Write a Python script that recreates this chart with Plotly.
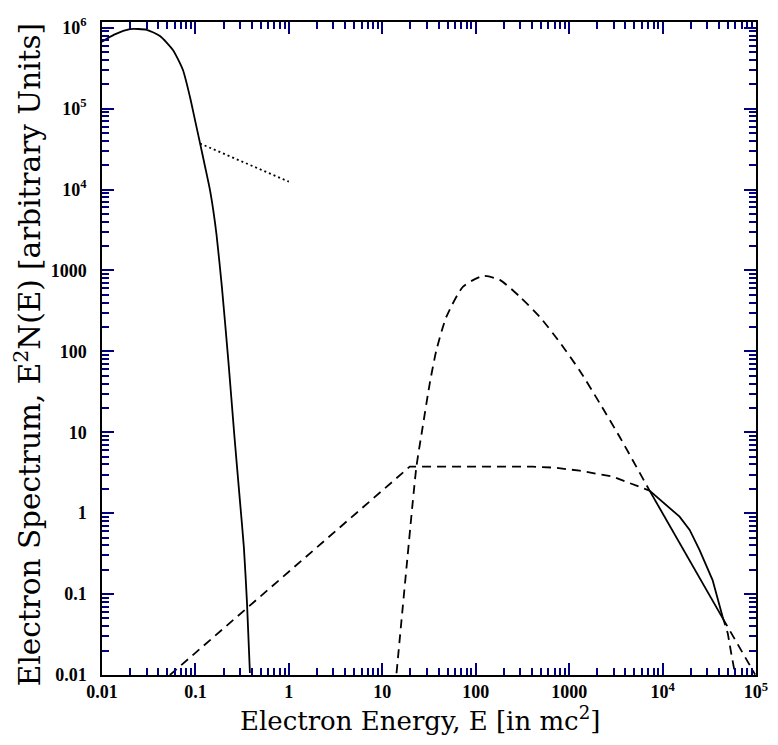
import plotly.graph_objects as go

# ---- data ----
therm_E = [0.01, 0.0135, 0.01995, 0.0301, 0.0417, 0.0574, 0.0735, 0.0873, 0.0995, 0.1117,
           0.127, 0.143, 0.155, 0.1686, 0.192, 0.2254, 0.2612, 0.299, 0.330, 0.356, 0.383]
therm_F = [6.7e5, 8.2e5, 9.6e5, 9.4e5, 7.9e5, 5.3e5, 3.0e5, 1.4e5, 7.0e4, 3.8e4,
           1.9e4, 9.9e3, 5.6e3, 2.7e3, 620, 75, 9, 1.45, 0.38, 0.08, 0.0106]

dot_E = [0.112, 1.0]
dot_F = [3.7e4, 1.25e4]

pl_E_dash = [0.0533, 19.7, 407, 700, 1294, 2917, 7260]
pl_F_dash = [0.01, 3.76, 3.76, 3.65, 3.35, 2.83, 1.90]
pl_E_solid = [7260, 1.52e4, 1.95e4, 2.49e4, 3.43e4, 4.39e4]
pl_F_solid = [1.90, 0.905, 0.62, 0.35, 0.149, 0.0526]
pl_E_tail = [4.39e4, 4.99e4, 5.43e4, 5.89e4, 6.0e4]
pl_F_tail = [0.0526, 0.0327, 0.0185, 0.0109, 0.0100]

pk_E_dash = [14.2, 18.2, 23.2, 26.5, 32.2, 38, 48.6, 73.2, 119.6, 181, 296, 483, 791,
             1294, 2118, 3467, 7260]
pk_F_dash = [0.0105, 0.218, 3.76, 10, 40, 104, 268, 631, 855, 763, 474, 268, 130,
             58, 23, 8.8, 1.90]
pk_E_solid = [7260, 4.41e4]
pk_F_solid = [1.90, 0.0501]
pk_E_tail = [4.41e4, 9.8e4]
pk_F_tail = [0.0501, 0.0101]

x_tickvals = [0.01, 0.1, 1, 10, 100, 1000, 1e4, 1e5]
x_ticktext = ["0.01", "0.1", "1", "10", "100", "1000", "10<sup>4</sup>", "10<sup>5</sup>"]
y_tickvals = [0.01, 0.1, 1, 10, 100, 1000, 1e4, 1e5, 1e6]
y_ticktext = ["0.01", "0.1", "1", "10", "100", "1000", "10<sup>4</sup>", "10<sup>5</sup>", "10<sup>6</sup>"]

x_title = "Electron Energy, E [in mc<sup>2</sup>]"
y_title = "Electron Spectrum, E<sup>2</sup>N(E) [arbitrary Units]"

X_RANGE = [-2, 5]
Y_RANGE = [-2, 6.07]


def minor_ticks(lo, hi):
    out = []
    for k in range(lo, hi + 1):
        for m in range(2, 10):
            out.append(m * 10.0 ** k)
    return out


fig = go.Figure()
black = "black"
TICKC = "#000080"
DASH = "9px,6px"


def add(xs, ys, dash, shape="linear", width=1.8):
    fig.add_trace(go.Scatter(x=xs, y=ys, mode="lines",
                             line=dict(color=black, width=width, dash=dash, shape=shape,
                                       smoothing=0.6),
                             showlegend=False, hoverinfo="skip"))


add(therm_E, therm_F, "solid", "spline")
add(dot_E, dot_F, "2px,3px")
add(pl_E_dash, pl_F_dash, DASH)
add(pl_E_solid, pl_F_solid, "solid")
add(pl_E_tail, pl_F_tail, DASH)
add(pk_E_dash, pk_F_dash, DASH, "spline")
add(pk_E_solid, pk_F_solid, "solid")
add(pk_E_tail, pk_F_tail, DASH)

# empty traces so that the extra tick axes (minor ticks, mirrored ticks) are drawn
for i in (2, 3, 4):
    fig.add_trace(go.Scatter(x=[None], y=[None], xaxis=f"x{i}", yaxis=f"y{i}",
                             showlegend=False, hoverinfo="skip"))

tickfont = dict(family="Liberation Serif", size=18, color=black, weight="bold")

common = dict(type="log", showgrid=False, zeroline=False, automargin=False,
              ticks="inside", tickwidth=2, tickcolor=TICKC)
MAJ, MIN = 12, 7

fig.update_layout(
    width=762, height=729,
    margin=dict(l=94, r=14, t=14, b=62),
    paper_bgcolor="white", plot_bgcolor="white",
    xaxis=dict(**common, range=X_RANGE, showline=True, linecolor=black, linewidth=1.5,
               ticklen=MAJ, tickvals=x_tickvals, ticktext=x_ticktext, tickfont=tickfont,
               ticklabeloverflow="allow"),
    xaxis2=dict(**common, range=X_RANGE, overlaying="x", side="bottom", showline=False,
                ticklen=MIN, tickvals=minor_ticks(-2, 4), showticklabels=False),
    xaxis3=dict(**common, range=X_RANGE, overlaying="x", side="top", showline=True,
                linecolor=black, linewidth=1.5, ticklen=MAJ,
                tickvals=x_tickvals, showticklabels=False),
    xaxis4=dict(**common, range=X_RANGE, overlaying="x", side="top", showline=False,
                ticklen=MIN, tickvals=minor_ticks(-2, 4), showticklabels=False),
    yaxis=dict(**common, range=Y_RANGE, showline=True, linecolor=black, linewidth=1.5,
               ticklen=MAJ, tickvals=y_tickvals, ticktext=y_ticktext, tickfont=tickfont,
               ticklabelstandoff=10, ticklabeloverflow="allow"),
    yaxis2=dict(**common, range=Y_RANGE, overlaying="y", side="left", showline=False,
                ticklen=MIN, tickvals=minor_ticks(-2, 6), showticklabels=False),
    yaxis3=dict(**common, range=Y_RANGE, overlaying="y", side="right", showline=True,
                linecolor=black, linewidth=1.5, ticklen=MAJ,
                tickvals=y_tickvals, showticklabels=False),
    yaxis4=dict(**common, range=Y_RANGE, overlaying="y", side="right", showline=False,
                ticklen=MIN, tickvals=minor_ticks(-2, 6), showticklabels=False),
    annotations=[
        dict(text=x_title, xref="paper", yref="paper", x=0.486, y=-0.068,
             xanchor="center", yanchor="middle", showarrow=False,
             font=dict(family="DejaVu Serif", size=26, color=black)),
        dict(text=y_title, xref="paper", yref="paper", x=-0.113, y=0.49,
             xanchor="center", yanchor="middle", showarrow=False, textangle=-90,
             font=dict(family="DejaVu Serif", size=29.5, color=black)),
    ],
)

fig.write_html("out.html")
